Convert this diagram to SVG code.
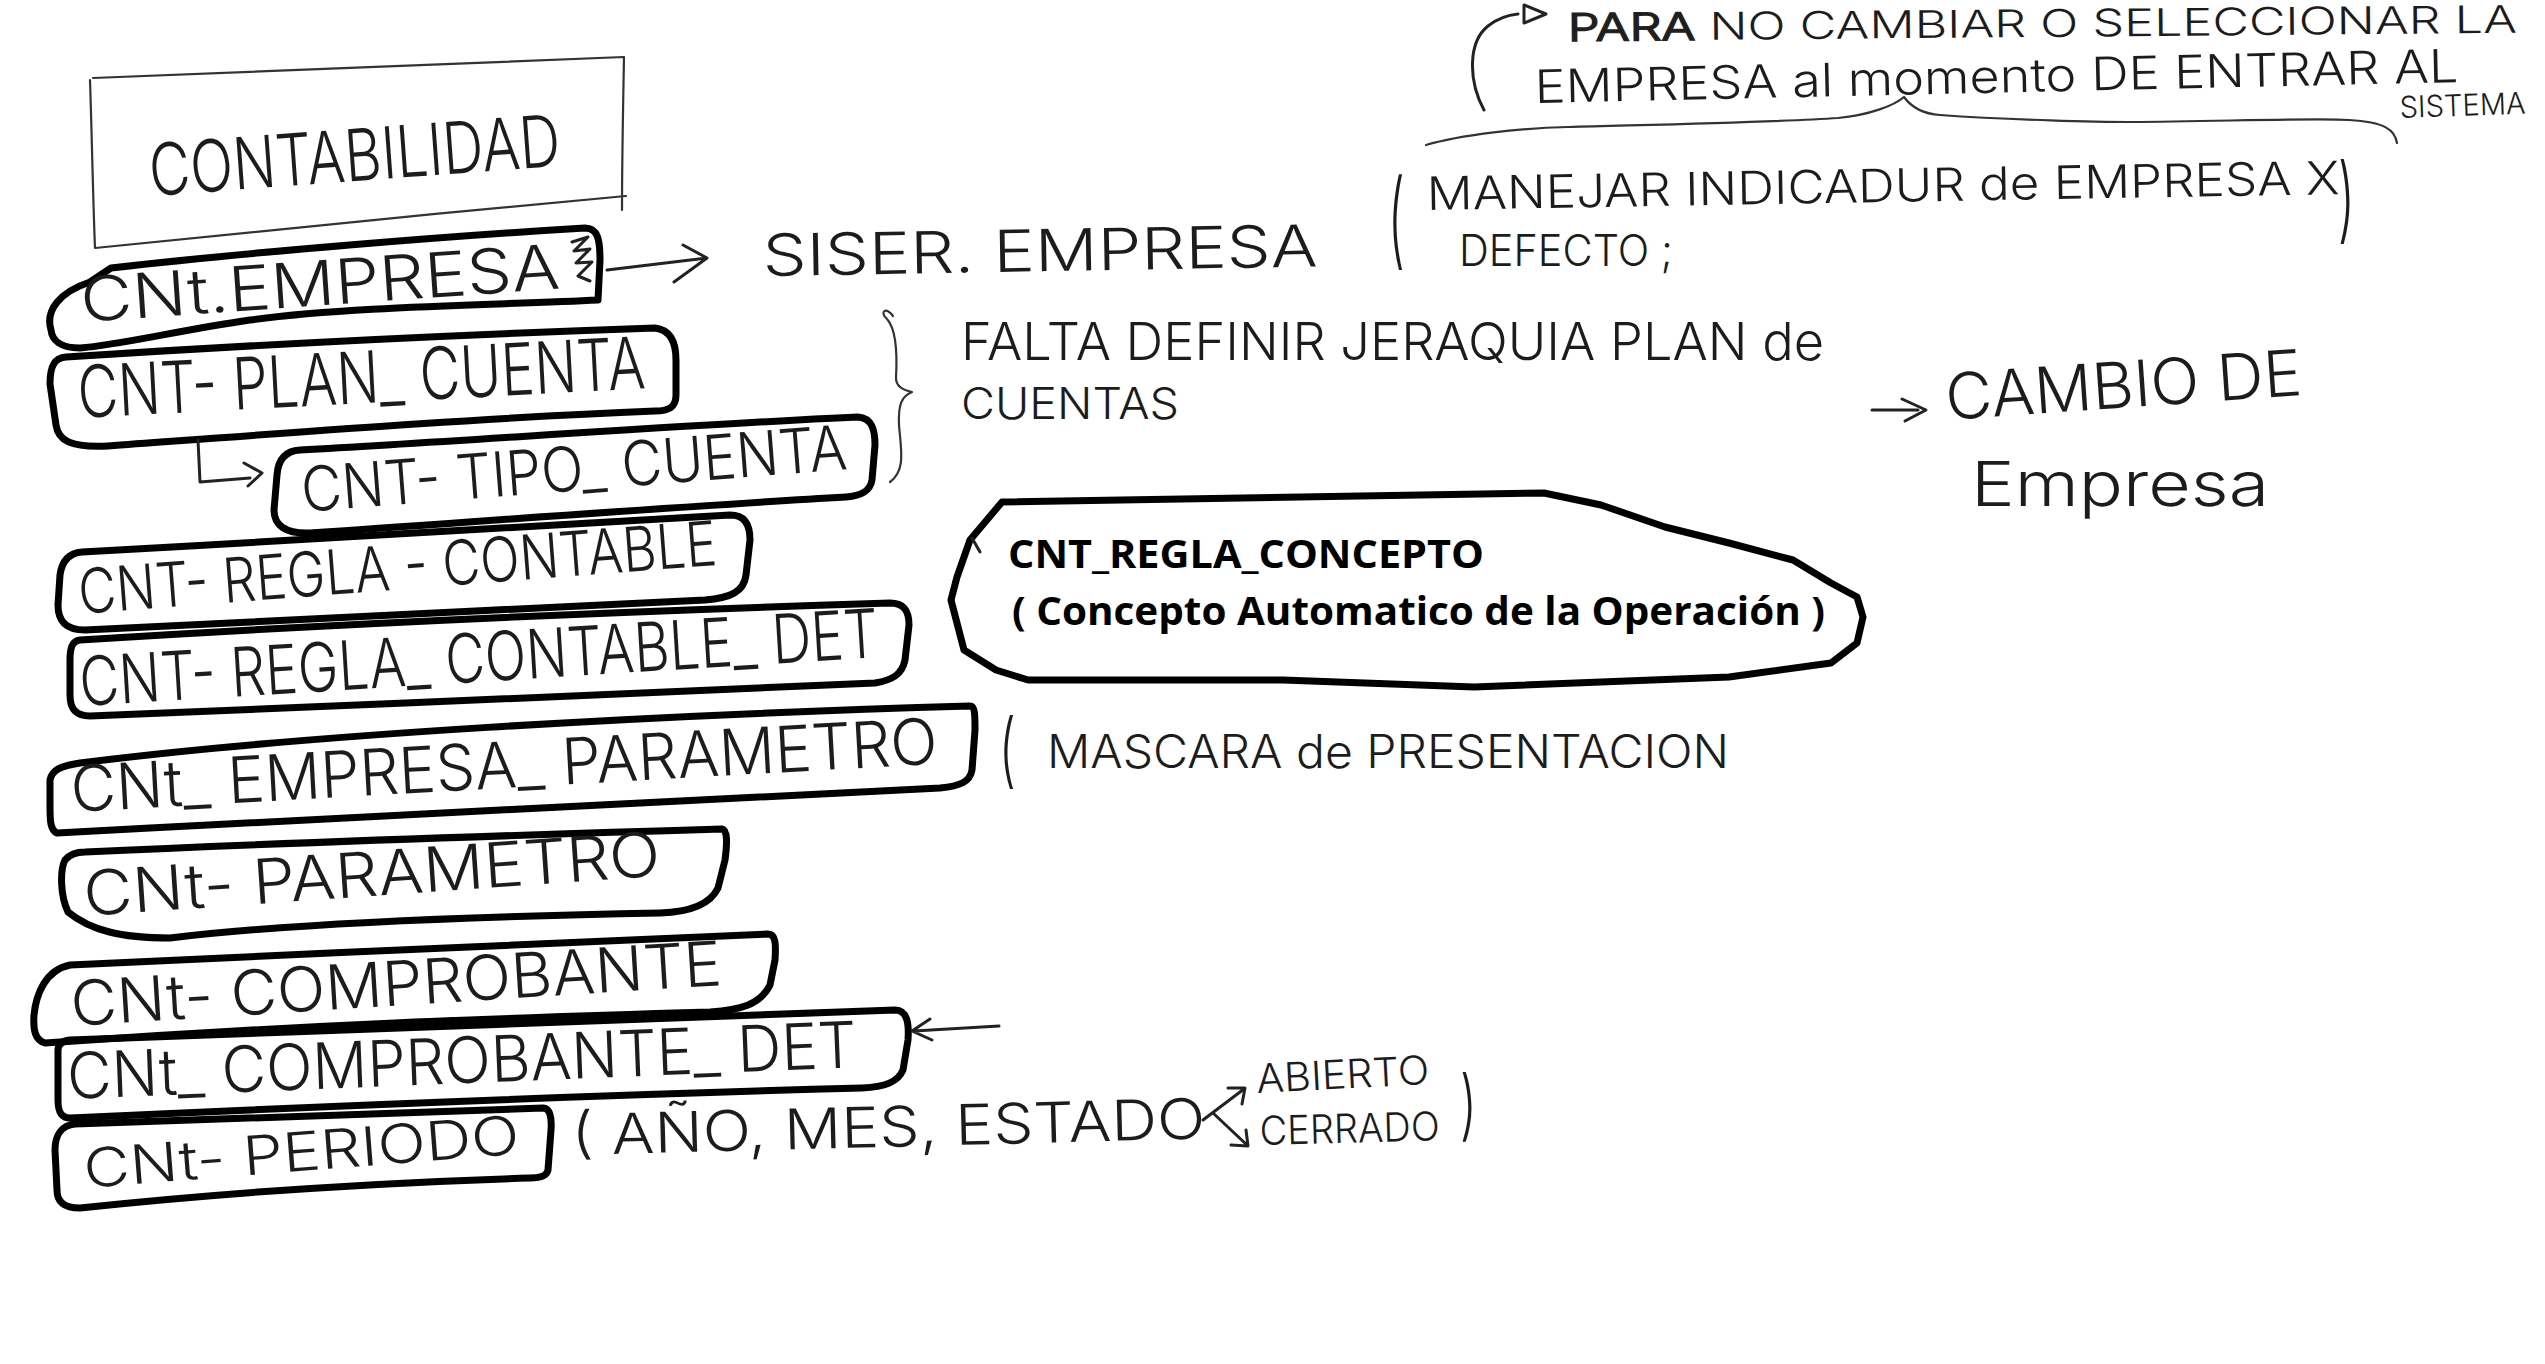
<svg xmlns="http://www.w3.org/2000/svg" width="2545" height="1364" viewBox="0 0 2545 1364">
  <style>
    .hand { font-family: Inter, "Liberation Sans", sans-serif; font-weight: 300; fill: #1c1c1c; }
    .typed { font-family: "Open Sans", "Liberation Sans", sans-serif; font-weight: 700; font-size: 40px; fill: #000; }
    .blob { fill: none; stroke: #000; stroke-width: 7; stroke-linejoin: round; stroke-linecap: round; }
    .ink { fill: none; stroke: #222; stroke-width: 3; stroke-linecap: round; stroke-linejoin: round; }
    .thin { fill: none; stroke: #333; stroke-width: 2.2; stroke-linecap: round; stroke-linejoin: round; }
  </style>
  <rect width="2545" height="1364" fill="#ffffff"/>

  <!-- module title box -->
  <g id="title">
    <path class="thin" d="M 93,78 C 250,72 450,64 624,57 M 90,80 C 92,140 93,200 95,248 M 95,248 C 250,232 450,212 626,196 M 624,57 C 623,110 622,160 622,210"/>
    <text class="hand" x="151" y="196" font-size="72" textLength="412" lengthAdjust="spacingAndGlyphs" transform="rotate(-4.2 151 196)">CONTABILIDAD</text>
  </g>

  <!-- table nodes -->
  <g id="cnt_empresa">
    <path class="blob" d="M 51,330 C 45,310 60,292 90,282 L 111,268 C 250,252 450,236 585,228 C 598,228 600,240 600,260 L 598,300 C 500,305 350,306 250,320 C 180,330 120,345 80,348 C 60,348 52,340 51,330 Z"/>
    <text class="hand" x="82" y="322" font-size="62" textLength="480" lengthAdjust="spacingAndGlyphs" transform="rotate(-4 82 322)">CNt.EMPRESA</text>
    <path class="ink" d="M 572,242 L 588,237 L 574,251 L 590,249 L 576,263 L 592,262 L 578,276 L 590,281"/>
  </g>

  <g id="cnt_plan_cuenta">
    <path class="blob" d="M 66,357 C 250,345 450,335 655,328 C 672,330 676,345 676,360 L 676,395 C 676,408 668,411 655,411 C 480,418 300,432 108,446 C 70,448 58,440 56,425 L 50,384 C 50,365 55,358 66,357 Z"/>
    <text class="hand" x="79" y="418" font-size="72" textLength="568" lengthAdjust="spacingAndGlyphs" transform="rotate(-3 79 418)">CNT- PLAN_ CUENTA</text>
  </g>

  <g id="cnt_tipo_cuenta">
    <path class="blob" d="M 300,450 C 480,440 680,425 858,417 C 872,418 875,430 875,445 L 872,480 C 870,492 860,496 846,497 C 700,505 500,520 310,533 C 285,534 274,525 274,510 L 277,475 C 278,460 285,451 300,450 Z"/>
    <text class="hand" x="303" y="512" font-size="62" textLength="547" lengthAdjust="spacingAndGlyphs" transform="rotate(-4.5 303 512)">CNT- TIPO_ CUENTA</text>
  </g>

  <g id="cnt_regla_contable">
    <path class="blob" d="M 82,552 C 300,540 520,526 730,515 C 745,515 750,525 750,540 L 746,575 C 744,592 730,598 705,600 C 500,610 280,620 85,630 C 65,630 58,620 58,605 L 60,575 C 62,560 70,553 82,552 Z"/>
    <text class="hand" x="80" y="614" font-size="62" textLength="640" lengthAdjust="spacingAndGlyphs" transform="rotate(-4.4 80 614)">CNT- REGLA - CONTABLE</text>
  </g>

  <g id="cnt_regla_contable_det">
    <path class="blob" d="M 80,640 C 320,625 600,612 890,603 C 905,603 909,612 909,625 L 905,660 C 902,675 892,680 875,683 C 620,695 350,705 90,716 C 75,716 70,708 70,695 L 70,660 C 70,648 72,641 80,640 Z"/>
    <text class="hand" x="81" y="706" font-size="68" textLength="800" lengthAdjust="spacingAndGlyphs" transform="rotate(-3.5 81 706)">CNT- REGLA_ CONTABLE_ DET</text>
  </g>

  <g id="cnt_empresa_parametro">
    <path class="blob" d="M 970,706 C 975,706 975,715 975,730 L 972,770 C 970,782 960,786 940,788 C 700,800 400,815 150,828 L 57,833 C 50,830 50,820 50,805 L 50,780 C 52,770 60,766 80,763 C 300,735 650,715 970,706 Z"/>
    <text class="hand" x="72" y="812" font-size="64" textLength="868" lengthAdjust="spacingAndGlyphs" transform="rotate(-3.2 72 812)">CNt_ EMPRESA_ PARAMETRO</text>
  </g>

  <g id="cnt_parametro">
    <path class="blob" d="M 85,852 C 300,842 520,835 722,829 C 728,830 727,845 725,860 L 718,888 C 710,905 690,912 660,913 C 500,916 300,922 170,938 C 120,938 90,930 68,912 C 60,895 60,870 65,860 C 70,854 78,852 85,852 Z"/>
    <text class="hand" x="85" y="916" font-size="62" textLength="578" lengthAdjust="spacingAndGlyphs" transform="rotate(-4 85 916)">CNt- PARAMETRO</text>
  </g>

  <g id="cnt_comprobante">
    <path class="blob" d="M 70,965 C 300,955 550,942 768,934 C 776,934 776,945 775,960 L 770,985 C 760,1005 740,1010 710,1012 C 500,1018 300,1025 45,1043 C 35,1040 33,1030 34,1015 C 36,995 45,970 70,965 Z"/>
    <text class="hand" x="72" y="1026" font-size="62" textLength="652" lengthAdjust="spacingAndGlyphs" transform="rotate(-3.6 72 1026)">CNt- COMPROBANTE</text>
  </g>

  <g id="cnt_comprobante_det">
    <path class="blob" d="M 70,1040 C 350,1030 650,1018 895,1010 C 908,1010 909,1025 908,1040 L 903,1070 C 898,1082 885,1087 862,1088 C 600,1095 350,1105 70,1118 C 60,1118 58,1110 58,1100 L 58,1050 C 58,1044 62,1041 70,1040 Z"/>
    <text class="hand" x="68" y="1099" font-size="64" textLength="790" lengthAdjust="spacingAndGlyphs" transform="rotate(-2.3 68 1099)">CNt_ COMPROBANTE_ DET</text>
  </g>

  <g id="cnt_periodo">
    <path class="blob" d="M 75,1124 C 250,1118 420,1112 543,1108 C 550,1108 552,1118 551,1130 L 548,1170 C 547,1176 540,1178 530,1178 C 400,1182 250,1190 80,1208 C 62,1208 57,1200 57,1190 L 55,1150 C 55,1135 62,1125 75,1124 Z"/>
    <text class="hand" x="85" y="1188" font-size="54" textLength="437" lengthAdjust="spacingAndGlyphs" transform="rotate(-4.5 85 1188)">CNt- PERIODO</text>
  </g>

  <g id="cnt_regla_concepto">
    <path class="blob" d="M 1002,502 L 1544,493 L 1601,505 L 1665,527 L 1729,543 L 1793,560 L 1831,583 L 1857,597 L 1863,617 L 1857,643 L 1831,663 L 1729,677 L 1474,687 L 1283,680 L 1028,680 L 996,670 L 964,650 L 951,600 L 957,577 L 970,540 Z"/>
    <path class="ink" d="M 972,538 L 980,552"/>
    <text class="typed" x="1008" y="568" textLength="476" lengthAdjust="spacingAndGlyphs">CNT_REGLA_CONCEPTO</text>
    <text class="typed" x="1012" y="625" textLength="813" lengthAdjust="spacingAndGlyphs">( Concepto Automatico de la Operación )</text>
  </g>

  <!-- connectors -->
  <g id="connectors">
    <!-- empresa to siser -->
    <path class="ink" d="M 607,270 L 707,258 M 683,245 L 707,258 L 674,282"/>
    <!-- plan cuenta down to tipo cuenta -->
    <path class="ink" d="M 198,440 L 200,482 L 250,478 M 244,463 L 262,473 L 248,486"/>
    <!-- pointer at comprobante det -->
    <path class="ink" d="M 999,1026 L 914,1031 M 930,1019 L 912,1031 L 932,1040"/>
    <!-- towards cambio de empresa -->
    <path class="ink" d="M 1872,410 L 1918,410 M 1902,399 L 1926,410 L 1905,421"/>
    <!-- curved pointer into the top note -->
    <path class="ink" d="M 1484,110 C 1468,80 1468,42 1488,26 C 1498,18 1508,15 1518,14 M 1524,5 L 1546,14 L 1524,23 Z"/>
    <!-- estado branches -->
    <path class="ink" d="M 1203,1120 L 1244,1089 M 1228,1088 L 1245,1088 L 1242,1104"/>
    <path class="ink" d="M 1213,1113 L 1247,1145 M 1231,1145 L 1248,1146 L 1246,1130"/>
  </g>

  <!-- notes -->
  <g id="notes">
    <text class="hand" x="763" y="276" font-size="58" textLength="555" lengthAdjust="spacingAndGlyphs" transform="rotate(-1 763 276)">SISER. EMPRESA</text>

    <text class="hand" font-size="48" transform="translate(1388,256) scale(1,2.2)">(</text>
    <text class="hand" x="1427" y="210" font-size="46" textLength="913" lengthAdjust="spacingAndGlyphs" transform="rotate(-1 1427 210)">MANEJAR INDICADUR de EMPRESA X</text>
    <text class="hand" x="1459" y="266" font-size="44" textLength="214" lengthAdjust="spacingAndGlyphs">DEFECTO ;</text>
    <text class="hand" font-size="48" transform="translate(2338,231) scale(1,1.95)">)</text>

    <text class="hand" x="1568" y="41" font-size="38" textLength="949" lengthAdjust="spacingAndGlyphs" transform="rotate(-0.5 1568 41)"><tspan stroke="#222" stroke-width="1.6">PARA</tspan> NO CAMBIAR O SELECCIONAR LA</text>
    <text class="hand" x="1535" y="103" font-size="46" textLength="924" lengthAdjust="spacingAndGlyphs" transform="rotate(-1.3 1535 103)">EMPRESA al momento DE ENTRAR AL</text>
    <text class="hand" x="2400" y="118" font-size="30" textLength="126" lengthAdjust="spacingAndGlyphs" transform="rotate(-2 2400 118)">SISTEMA</text>
    <path class="thin" d="M 1426,145 C 1460,135 1520,128 1568,127 C 1680,124 1780,122 1838,118 C 1870,115 1895,105 1904,97 C 1912,108 1925,114 1940,115 C 2010,120 2100,122 2130,122 C 2230,121 2320,118 2349,120 C 2385,122 2395,130 2397,143"/>

    <path class="thin" d="M 893,316 C 886,306 879,312 887,319 C 897,330 897,360 896,378 C 896,386 902,390 912,392 C 902,396 898,404 899,425 C 901,450 906,470 890,482"/>
    <text class="hand" x="961" y="360" font-size="52" textLength="863" lengthAdjust="spacingAndGlyphs">FALTA DEFINIR JERAQUIA PLAN de</text>
    <text class="hand" x="961" y="419" font-size="44" textLength="218" lengthAdjust="spacingAndGlyphs">CUENTAS</text>

    <text class="hand" x="1947" y="420" font-size="64" textLength="357" lengthAdjust="spacingAndGlyphs" transform="rotate(-4 1947 420)">CAMBIO DE</text>
    <text class="hand" x="1971" y="506" font-size="62" textLength="298" lengthAdjust="spacingAndGlyphs">Empresa</text>

    <text class="hand" font-size="48" transform="translate(999,778) scale(1,1.7)">(</text>
    <text class="hand" x="1047" y="768" font-size="46" textLength="682" lengthAdjust="spacingAndGlyphs">MASCARA de PRESENTACION</text>

    <text class="hand" x="572" y="1155" font-size="56" textLength="634" lengthAdjust="spacingAndGlyphs" transform="rotate(-1.5 572 1155)">( AÑO, MES, ESTADO</text>
    <text class="hand" x="1257" y="1093" font-size="40" textLength="173" lengthAdjust="spacingAndGlyphs" transform="rotate(-3 1257 1093)">ABIERTO</text>
    <text class="hand" x="1260" y="1145" font-size="40" textLength="180" lengthAdjust="spacingAndGlyphs" transform="rotate(-1.5 1260 1145)">CERRADO</text>
    <text class="hand" font-size="48" transform="translate(1460,1131) scale(1,1.6)">)</text>
  </g>
</svg>
